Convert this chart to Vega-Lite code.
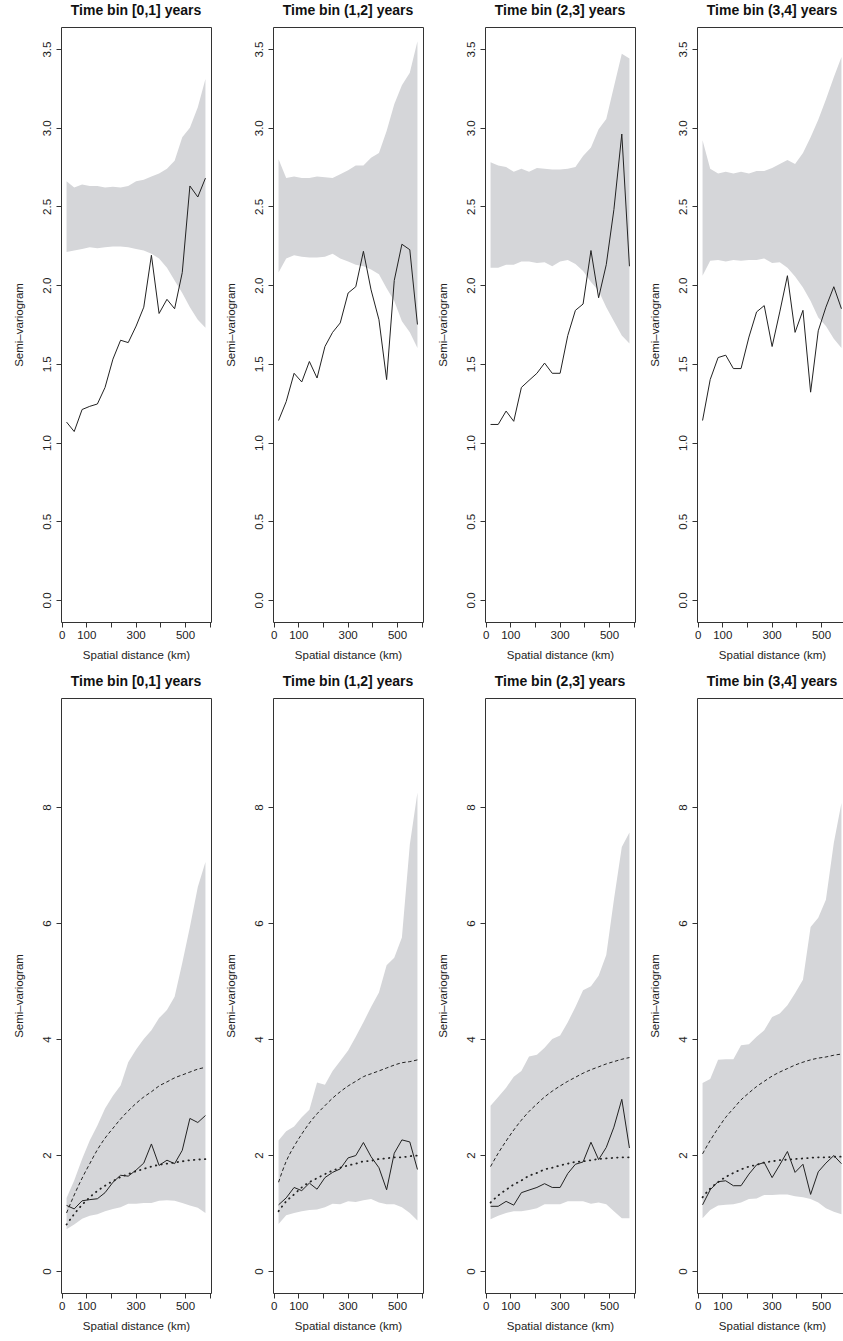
{
"$schema": "https://vega.github.io/schema/vega-lite/v6.json",
"background": "white",
"padding": {"left": 12, "top": 3, "right": 0, "bottom": 0},
"datasets": {
"b0": [
{"d":20,"emp":1.13,"lo1":2.21,"hi1":2.66,"lo2":0.72,"hi2":1.26,"sep":1.0,"nsep":0.8},
{"d":51,"emp":1.07,"lo1":2.22,"hi1":2.62,"lo2":0.8,"hi2":1.56,"sep":1.31,"nsep":0.98},
{"d":83,"emp":1.21,"lo1":2.23,"hi1":2.64,"lo2":0.9,"hi2":1.93,"sep":1.6,"nsep":1.14},
{"d":114,"emp":1.23,"lo1":2.24,"hi1":2.63,"lo2":0.95,"hi2":2.25,"sep":1.85,"nsep":1.27},
{"d":145,"emp":1.245,"lo1":2.235,"hi1":2.63,"lo2":0.98,"hi2":2.51,"sep":2.09,"nsep":1.38},
{"d":176,"emp":1.35,"lo1":2.24,"hi1":2.62,"lo2":1.03,"hi2":2.8,"sep":2.29,"nsep":1.47},
{"d":208,"emp":1.53,"lo1":2.245,"hi1":2.625,"lo2":1.07,"hi2":3.02,"sep":2.46,"nsep":1.55},
{"d":239,"emp":1.65,"lo1":2.245,"hi1":2.62,"lo2":1.1,"hi2":3.2,"sep":2.62,"nsep":1.62},
{"d":270,"emp":1.635,"lo1":2.24,"hi1":2.63,"lo2":1.16,"hi2":3.6,"sep":2.76,"nsep":1.67},
{"d":302,"emp":1.74,"lo1":2.23,"hi1":2.66,"lo2":1.16,"hi2":3.82,"sep":2.89,"nsep":1.72},
{"d":333,"emp":1.86,"lo1":2.22,"hi1":2.67,"lo2":1.17,"hi2":4.0,"sep":3.0,"nsep":1.76},
{"d":364,"emp":2.19,"lo1":2.2,"hi1":2.69,"lo2":1.17,"hi2":4.15,"sep":3.09,"nsep":1.8},
{"d":395,"emp":1.82,"lo1":2.17,"hi1":2.71,"lo2":1.21,"hi2":4.36,"sep":3.19,"nsep":1.83},
{"d":427,"emp":1.91,"lo1":2.11,"hi1":2.74,"lo2":1.22,"hi2":4.5,"sep":3.26,"nsep":1.85},
{"d":458,"emp":1.85,"lo1":2.03,"hi1":2.79,"lo2":1.21,"hi2":4.73,"sep":3.33,"nsep":1.87},
{"d":489,"emp":2.08,"lo1":1.95,"hi1":2.94,"lo2":1.17,"hi2":5.31,"sep":3.38,"nsep":1.89},
{"d":520,"emp":2.63,"lo1":1.86,"hi1":3.0,"lo2":1.13,"hi2":5.93,"sep":3.43,"nsep":1.91},
{"d":552,"emp":2.56,"lo1":1.78,"hi1":3.13,"lo2":1.09,"hi2":6.62,"sep":3.48,"nsep":1.92},
{"d":583,"emp":2.68,"lo1":1.73,"hi1":3.31,"lo2":1.0,"hi2":7.05,"sep":3.51,"nsep":1.93}
],
"b1": [
{"d":20,"emp":1.14,"lo1":2.08,"hi1":2.8,"lo2":0.81,"hi2":2.25,"sep":1.53,"nsep":1.03},
{"d":51,"emp":1.26,"lo1":2.17,"hi1":2.68,"lo2":0.96,"hi2":2.41,"sep":1.89,"nsep":1.2},
{"d":83,"emp":1.44,"lo1":2.19,"hi1":2.69,"lo2":1.0,"hi2":2.49,"sep":2.15,"nsep":1.32},
{"d":114,"emp":1.385,"lo1":2.18,"hi1":2.68,"lo2":1.03,"hi2":2.65,"sep":2.36,"nsep":1.44},
{"d":145,"emp":1.515,"lo1":2.175,"hi1":2.68,"lo2":1.05,"hi2":2.78,"sep":2.55,"nsep":1.53},
{"d":176,"emp":1.41,"lo1":2.175,"hi1":2.69,"lo2":1.06,"hi2":3.25,"sep":2.71,"nsep":1.6},
{"d":208,"emp":1.61,"lo1":2.18,"hi1":2.685,"lo2":1.1,"hi2":3.21,"sep":2.85,"nsep":1.67},
{"d":239,"emp":1.7,"lo1":2.2,"hi1":2.68,"lo2":1.16,"hi2":3.45,"sep":2.98,"nsep":1.73},
{"d":270,"emp":1.76,"lo1":2.17,"hi1":2.705,"lo2":1.15,"hi2":3.62,"sep":3.09,"nsep":1.78},
{"d":302,"emp":1.95,"lo1":2.15,"hi1":2.73,"lo2":1.2,"hi2":3.8,"sep":3.19,"nsep":1.82},
{"d":333,"emp":1.99,"lo1":2.13,"hi1":2.76,"lo2":1.19,"hi2":4.04,"sep":3.27,"nsep":1.85},
{"d":364,"emp":2.215,"lo1":2.12,"hi1":2.76,"lo2":1.22,"hi2":4.29,"sep":3.35,"nsep":1.89},
{"d":395,"emp":1.97,"lo1":2.1,"hi1":2.81,"lo2":1.24,"hi2":4.55,"sep":3.4,"nsep":1.9},
{"d":427,"emp":1.78,"lo1":2.07,"hi1":2.84,"lo2":1.18,"hi2":4.8,"sep":3.45,"nsep":1.93},
{"d":458,"emp":1.4,"lo1":1.98,"hi1":2.98,"lo2":1.15,"hi2":5.27,"sep":3.5,"nsep":1.94},
{"d":489,"emp":2.03,"lo1":1.9,"hi1":3.15,"lo2":1.15,"hi2":5.4,"sep":3.55,"nsep":1.96},
{"d":520,"emp":2.26,"lo1":1.77,"hi1":3.27,"lo2":1.1,"hi2":5.75,"sep":3.59,"nsep":1.96},
{"d":552,"emp":2.225,"lo1":1.7,"hi1":3.35,"lo2":1.0,"hi2":7.35,"sep":3.61,"nsep":1.98},
{"d":583,"emp":1.75,"lo1":1.6,"hi1":3.55,"lo2":0.87,"hi2":8.25,"sep":3.64,"nsep":1.99}
],
"b2": [
{"d":20,"emp":1.115,"lo1":2.11,"hi1":2.78,"lo2":0.89,"hi2":2.85,"sep":1.8,"nsep":1.18},
{"d":51,"emp":1.115,"lo1":2.11,"hi1":2.76,"lo2":0.95,"hi2":3.0,"sep":2.03,"nsep":1.3},
{"d":83,"emp":1.2,"lo1":2.13,"hi1":2.75,"lo2":1.0,"hi2":3.16,"sep":2.24,"nsep":1.4},
{"d":114,"emp":1.135,"lo1":2.13,"hi1":2.72,"lo2":1.03,"hi2":3.35,"sep":2.43,"nsep":1.49},
{"d":145,"emp":1.35,"lo1":2.15,"hi1":2.74,"lo2":1.03,"hi2":3.45,"sep":2.6,"nsep":1.56},
{"d":176,"emp":1.395,"lo1":2.15,"hi1":2.72,"lo2":1.05,"hi2":3.7,"sep":2.75,"nsep":1.64},
{"d":208,"emp":1.44,"lo1":2.14,"hi1":2.745,"lo2":1.08,"hi2":3.73,"sep":2.88,"nsep":1.69},
{"d":239,"emp":1.505,"lo1":2.145,"hi1":2.74,"lo2":1.15,"hi2":3.85,"sep":3.0,"nsep":1.75},
{"d":270,"emp":1.44,"lo1":2.12,"hi1":2.735,"lo2":1.15,"hi2":4.0,"sep":3.1,"nsep":1.78},
{"d":302,"emp":1.44,"lo1":2.15,"hi1":2.735,"lo2":1.15,"hi2":4.06,"sep":3.19,"nsep":1.82},
{"d":333,"emp":1.68,"lo1":2.16,"hi1":2.74,"lo2":1.2,"hi2":4.29,"sep":3.27,"nsep":1.85},
{"d":364,"emp":1.84,"lo1":2.135,"hi1":2.75,"lo2":1.2,"hi2":4.55,"sep":3.34,"nsep":1.88},
{"d":395,"emp":1.88,"lo1":2.09,"hi1":2.82,"lo2":1.2,"hi2":4.84,"sep":3.41,"nsep":1.89},
{"d":427,"emp":2.22,"lo1":2.02,"hi1":2.875,"lo2":1.16,"hi2":4.91,"sep":3.47,"nsep":1.91},
{"d":458,"emp":1.92,"lo1":1.965,"hi1":2.99,"lo2":1.18,"hi2":5.09,"sep":3.52,"nsep":1.93},
{"d":489,"emp":2.13,"lo1":1.86,"hi1":3.055,"lo2":1.15,"hi2":5.45,"sep":3.57,"nsep":1.94},
{"d":520,"emp":2.48,"lo1":1.77,"hi1":3.26,"lo2":1.03,"hi2":6.4,"sep":3.61,"nsep":1.95},
{"d":552,"emp":2.96,"lo1":1.68,"hi1":3.47,"lo2":0.91,"hi2":7.31,"sep":3.65,"nsep":1.96},
{"d":583,"emp":2.12,"lo1":1.63,"hi1":3.44,"lo2":0.91,"hi2":7.56,"sep":3.68,"nsep":1.96}
],
"b3": [
{"d":20,"emp":1.14,"lo1":2.06,"hi1":2.92,"lo2":0.91,"hi2":3.24,"sep":2.02,"nsep":1.27},
{"d":51,"emp":1.4,"lo1":2.155,"hi1":2.74,"lo2":1.05,"hi2":3.31,"sep":2.25,"nsep":1.42},
{"d":83,"emp":1.54,"lo1":2.16,"hi1":2.71,"lo2":1.13,"hi2":3.64,"sep":2.46,"nsep":1.53},
{"d":114,"emp":1.555,"lo1":2.15,"hi1":2.72,"lo2":1.14,"hi2":3.65,"sep":2.65,"nsep":1.62},
{"d":145,"emp":1.47,"lo1":2.16,"hi1":2.71,"lo2":1.15,"hi2":3.65,"sep":2.8,"nsep":1.69},
{"d":176,"emp":1.47,"lo1":2.155,"hi1":2.72,"lo2":1.18,"hi2":3.89,"sep":2.95,"nsep":1.75},
{"d":208,"emp":1.67,"lo1":2.16,"hi1":2.71,"lo2":1.24,"hi2":3.91,"sep":3.07,"nsep":1.8},
{"d":239,"emp":1.83,"lo1":2.16,"hi1":2.725,"lo2":1.25,"hi2":4.04,"sep":3.18,"nsep":1.83},
{"d":270,"emp":1.87,"lo1":2.17,"hi1":2.725,"lo2":1.31,"hi2":4.15,"sep":3.27,"nsep":1.87},
{"d":302,"emp":1.61,"lo1":2.14,"hi1":2.745,"lo2":1.31,"hi2":4.38,"sep":3.36,"nsep":1.89},
{"d":333,"emp":1.83,"lo1":2.145,"hi1":2.77,"lo2":1.32,"hi2":4.44,"sep":3.43,"nsep":1.91},
{"d":364,"emp":2.06,"lo1":2.11,"hi1":2.795,"lo2":1.32,"hi2":4.58,"sep":3.49,"nsep":1.92},
{"d":395,"emp":1.7,"lo1":2.055,"hi1":2.77,"lo2":1.29,"hi2":4.79,"sep":3.55,"nsep":1.93},
{"d":427,"emp":1.84,"lo1":1.985,"hi1":2.84,"lo2":1.27,"hi2":5.02,"sep":3.6,"nsep":1.94},
{"d":458,"emp":1.32,"lo1":1.9,"hi1":2.94,"lo2":1.24,"hi2":5.93,"sep":3.64,"nsep":1.95},
{"d":489,"emp":1.71,"lo1":1.795,"hi1":3.05,"lo2":1.18,"hi2":6.09,"sep":3.67,"nsep":1.96},
{"d":520,"emp":1.86,"lo1":1.74,"hi1":3.18,"lo2":1.08,"hi2":6.4,"sep":3.69,"nsep":1.96},
{"d":552,"emp":1.99,"lo1":1.66,"hi1":3.32,"lo2":1.02,"hi2":7.38,"sep":3.72,"nsep":1.97},
{"d":583,"emp":1.85,"lo1":1.6,"hi1":3.45,"lo2":0.98,"hi2":8.07,"sep":3.74,"nsep":1.97}
]
},
"columns": 4,
"spacing": {"row": 76, "column": 62},
"bounds": "flush",
"concat": [
{"data": {"name": "b0"}, "title": "Time bin [0,1] years", "width": 150, "height": 595,
 "layer": [
 {"mark": {"type": "area", "color": "#d5d6d9"}, "encoding": {
  "x": {"field": "d", "type": "quantitative", "scale": {"domain": [-2.5, 605.5], "nice": false, "zero": false}, "axis": {"title": "Spatial distance (km)", "values": [0,100,200,300,400,500,600], "tickCount": 20, "labelExpr": "datum.value == 200 || datum.value == 400 || datum.value == 600 ? '' : datum.label"}},
  "y": {"field": "lo1", "type": "quantitative", "scale": {"domain": [-0.14, 3.64], "nice": false, "zero": false}, "axis": {"title": "Semi–variogram", "values": [0,0.5,1,1.5,2,2.5,3,3.5], "tickCount": 20, "format": ".1f"}},
  "y2": {"field": "hi1"}}},
 {"mark": {"type": "line", "color": "#222222", "strokeWidth": 1}, "encoding": {"x": {"field": "d", "type": "quantitative"}, "y": {"field": "emp", "type": "quantitative"}}}
 ]},
{"data": {"name": "b1"}, "title": "Time bin (1,2] years", "width": 150, "height": 595,
 "layer": [
 {"mark": {"type": "area", "color": "#d5d6d9"}, "encoding": {
  "x": {"field": "d", "type": "quantitative", "scale": {"domain": [-2.5, 605.5], "nice": false, "zero": false}, "axis": {"title": "Spatial distance (km)", "values": [0,100,200,300,400,500,600], "tickCount": 20, "labelExpr": "datum.value == 200 || datum.value == 400 || datum.value == 600 ? '' : datum.label"}},
  "y": {"field": "lo1", "type": "quantitative", "scale": {"domain": [-0.14, 3.64], "nice": false, "zero": false}, "axis": {"title": "Semi–variogram", "values": [0,0.5,1,1.5,2,2.5,3,3.5], "tickCount": 20, "format": ".1f"}},
  "y2": {"field": "hi1"}}},
 {"mark": {"type": "line", "color": "#222222", "strokeWidth": 1}, "encoding": {"x": {"field": "d", "type": "quantitative"}, "y": {"field": "emp", "type": "quantitative"}}}
 ]},
{"data": {"name": "b2"}, "title": "Time bin (2,3] years", "width": 150, "height": 595,
 "layer": [
 {"mark": {"type": "area", "color": "#d5d6d9"}, "encoding": {
  "x": {"field": "d", "type": "quantitative", "scale": {"domain": [-2.5, 605.5], "nice": false, "zero": false}, "axis": {"title": "Spatial distance (km)", "values": [0,100,200,300,400,500,600], "tickCount": 20, "labelExpr": "datum.value == 200 || datum.value == 400 || datum.value == 600 ? '' : datum.label"}},
  "y": {"field": "lo1", "type": "quantitative", "scale": {"domain": [-0.14, 3.64], "nice": false, "zero": false}, "axis": {"title": "Semi–variogram", "values": [0,0.5,1,1.5,2,2.5,3,3.5], "tickCount": 20, "format": ".1f"}},
  "y2": {"field": "hi1"}}},
 {"mark": {"type": "line", "color": "#222222", "strokeWidth": 1}, "encoding": {"x": {"field": "d", "type": "quantitative"}, "y": {"field": "emp", "type": "quantitative"}}}
 ]},
{"data": {"name": "b3"}, "title": "Time bin (3,4] years", "width": 150, "height": 595,
 "layer": [
 {"mark": {"type": "area", "color": "#d5d6d9"}, "encoding": {
  "x": {"field": "d", "type": "quantitative", "scale": {"domain": [-2.5, 605.5], "nice": false, "zero": false}, "axis": {"title": "Spatial distance (km)", "values": [0,100,200,300,400,500,600], "tickCount": 20, "labelExpr": "datum.value == 200 || datum.value == 400 || datum.value == 600 ? '' : datum.label"}},
  "y": {"field": "lo1", "type": "quantitative", "scale": {"domain": [-0.14, 3.64], "nice": false, "zero": false}, "axis": {"title": "Semi–variogram", "values": [0,0.5,1,1.5,2,2.5,3,3.5], "tickCount": 20, "format": ".1f"}},
  "y2": {"field": "hi1"}}},
 {"mark": {"type": "line", "color": "#222222", "strokeWidth": 1}, "encoding": {"x": {"field": "d", "type": "quantitative"}, "y": {"field": "emp", "type": "quantitative"}}}
 ]},
{"data": {"name": "b0"}, "title": "Time bin [0,1] years", "width": 150, "height": 595,
 "layer": [
 {"mark": {"type": "area", "color": "#d5d6d9"}, "encoding": {
  "x": {"field": "d", "type": "quantitative", "scale": {"domain": [-2.5, 605.5], "nice": false, "zero": false}, "axis": {"title": "Spatial distance (km)", "values": [0,100,200,300,400,500,600], "tickCount": 20, "labelExpr": "datum.value == 200 || datum.value == 400 || datum.value == 600 ? '' : datum.label"}},
  "y": {"field": "lo2", "type": "quantitative", "scale": {"domain": [-0.38, 9.88], "nice": false, "zero": false}, "axis": {"title": "Semi–variogram", "values": [0,2,4,6,8], "tickCount": 20, "format": "d"}},
  "y2": {"field": "hi2"}}},
 {"mark": {"type": "line", "color": "#222222", "strokeWidth": 1}, "encoding": {"x": {"field": "d", "type": "quantitative"}, "y": {"field": "emp", "type": "quantitative"}}},
 {"mark": {"type": "line", "color": "#222222", "strokeWidth": 1, "strokeDash": [3.5, 2.5], "interpolate": "monotone"}, "encoding": {"x": {"field": "d", "type": "quantitative"}, "y": {"field": "sep", "type": "quantitative"}}},
 {"mark": {"type": "line", "color": "#222222", "strokeWidth": 1.8, "strokeDash": [0.5, 5], "strokeCap": "round", "interpolate": "monotone"}, "encoding": {"x": {"field": "d", "type": "quantitative"}, "y": {"field": "nsep", "type": "quantitative"}}}
 ]},
{"data": {"name": "b1"}, "title": "Time bin (1,2] years", "width": 150, "height": 595,
 "layer": [
 {"mark": {"type": "area", "color": "#d5d6d9"}, "encoding": {
  "x": {"field": "d", "type": "quantitative", "scale": {"domain": [-2.5, 605.5], "nice": false, "zero": false}, "axis": {"title": "Spatial distance (km)", "values": [0,100,200,300,400,500,600], "tickCount": 20, "labelExpr": "datum.value == 200 || datum.value == 400 || datum.value == 600 ? '' : datum.label"}},
  "y": {"field": "lo2", "type": "quantitative", "scale": {"domain": [-0.38, 9.88], "nice": false, "zero": false}, "axis": {"title": "Semi–variogram", "values": [0,2,4,6,8], "tickCount": 20, "format": "d"}},
  "y2": {"field": "hi2"}}},
 {"mark": {"type": "line", "color": "#222222", "strokeWidth": 1}, "encoding": {"x": {"field": "d", "type": "quantitative"}, "y": {"field": "emp", "type": "quantitative"}}},
 {"mark": {"type": "line", "color": "#222222", "strokeWidth": 1, "strokeDash": [3.5, 2.5], "interpolate": "monotone"}, "encoding": {"x": {"field": "d", "type": "quantitative"}, "y": {"field": "sep", "type": "quantitative"}}},
 {"mark": {"type": "line", "color": "#222222", "strokeWidth": 1.8, "strokeDash": [0.5, 5], "strokeCap": "round", "interpolate": "monotone"}, "encoding": {"x": {"field": "d", "type": "quantitative"}, "y": {"field": "nsep", "type": "quantitative"}}}
 ]},
{"data": {"name": "b2"}, "title": "Time bin (2,3] years", "width": 150, "height": 595,
 "layer": [
 {"mark": {"type": "area", "color": "#d5d6d9"}, "encoding": {
  "x": {"field": "d", "type": "quantitative", "scale": {"domain": [-2.5, 605.5], "nice": false, "zero": false}, "axis": {"title": "Spatial distance (km)", "values": [0,100,200,300,400,500,600], "tickCount": 20, "labelExpr": "datum.value == 200 || datum.value == 400 || datum.value == 600 ? '' : datum.label"}},
  "y": {"field": "lo2", "type": "quantitative", "scale": {"domain": [-0.38, 9.88], "nice": false, "zero": false}, "axis": {"title": "Semi–variogram", "values": [0,2,4,6,8], "tickCount": 20, "format": "d"}},
  "y2": {"field": "hi2"}}},
 {"mark": {"type": "line", "color": "#222222", "strokeWidth": 1}, "encoding": {"x": {"field": "d", "type": "quantitative"}, "y": {"field": "emp", "type": "quantitative"}}},
 {"mark": {"type": "line", "color": "#222222", "strokeWidth": 1, "strokeDash": [3.5, 2.5], "interpolate": "monotone"}, "encoding": {"x": {"field": "d", "type": "quantitative"}, "y": {"field": "sep", "type": "quantitative"}}},
 {"mark": {"type": "line", "color": "#222222", "strokeWidth": 1.8, "strokeDash": [0.5, 5], "strokeCap": "round", "interpolate": "monotone"}, "encoding": {"x": {"field": "d", "type": "quantitative"}, "y": {"field": "nsep", "type": "quantitative"}}}
 ]},
{"data": {"name": "b3"}, "title": "Time bin (3,4] years", "width": 150, "height": 595,
 "layer": [
 {"mark": {"type": "area", "color": "#d5d6d9"}, "encoding": {
  "x": {"field": "d", "type": "quantitative", "scale": {"domain": [-2.5, 605.5], "nice": false, "zero": false}, "axis": {"title": "Spatial distance (km)", "values": [0,100,200,300,400,500,600], "tickCount": 20, "labelExpr": "datum.value == 200 || datum.value == 400 || datum.value == 600 ? '' : datum.label"}},
  "y": {"field": "lo2", "type": "quantitative", "scale": {"domain": [-0.38, 9.88], "nice": false, "zero": false}, "axis": {"title": "Semi–variogram", "values": [0,2,4,6,8], "tickCount": 20, "format": "d"}},
  "y2": {"field": "hi2"}}},
 {"mark": {"type": "line", "color": "#222222", "strokeWidth": 1}, "encoding": {"x": {"field": "d", "type": "quantitative"}, "y": {"field": "emp", "type": "quantitative"}}},
 {"mark": {"type": "line", "color": "#222222", "strokeWidth": 1, "strokeDash": [3.5, 2.5], "interpolate": "monotone"}, "encoding": {"x": {"field": "d", "type": "quantitative"}, "y": {"field": "sep", "type": "quantitative"}}},
 {"mark": {"type": "line", "color": "#222222", "strokeWidth": 1.8, "strokeDash": [0.5, 5], "strokeCap": "round", "interpolate": "monotone"}, "encoding": {"x": {"field": "d", "type": "quantitative"}, "y": {"field": "nsep", "type": "quantitative"}}}
 ]}
],
"config": {
 "view": {"stroke": "#333333", "strokeWidth": 1},
 "font": "Liberation Sans",
 "axis": {"labelFont": "Liberation Sans", "labelFontSize": 11.5, "titleFont": "Liberation Sans", "titleFontSize": 11.5, "titleFontWeight": "normal", "labelColor": "#222222", "titleColor": "#222222", "tickColor": "#333333", "domain": false, "grid": false, "tickSize": 5, "labelFlush": false, "labelOverlap": false},
 "axisY": {"labelAngle": 270, "labelAlign": "center", "labelBaseline": "bottom", "labelPadding": 4, "titlePadding": 17},
 "axisX": {"labelAngle": 0, "labelPadding": 2, "titlePadding": 9},
 "title": {"font": "Liberation Sans", "fontSize": 14, "fontWeight": "bold", "color": "#111111", "offset": 9, "baseline": "alphabetic", "anchor": "middle"}
}
}
